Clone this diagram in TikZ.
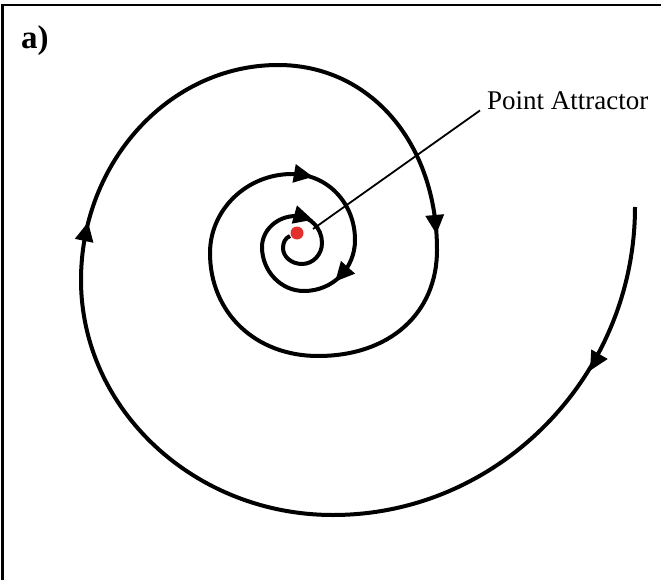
\documentclass[tikz,border=0pt]{standalone}
\usepackage{fontspec}
\setmainfont{Liberation Serif}
\definecolor{dotred}{RGB}{228,48,45}
\begin{document}
\begin{tikzpicture}[x=1pt,y=-1pt,
  spiral/.style={line width=4pt, line join=round},
  frameline/.style={line width=2.8pt},
  leader/.style={line width=1.8pt},
  arrowhead/.pic={\fill (10pt,0) -- (-9pt,9.5pt) -- (-9pt,-9.5pt) -- cycle;}]
\useasboundingbox (0,0) rectangle (661,580);
\fill[white] (0,0) rectangle (661,580);
% frame (right and bottom edges cropped)
\draw[frameline] (2.5,590) -- (2.5,5) -- (670,5);
% panel label
\node[anchor=base west, inner sep=0pt, font=\fontsize{33}{33}\selectfont\bfseries] (panel) at (21,49) {a)};
% spiral, clockwise inward
\draw[spiral]
 (635,207) .. controls (635,376) and (499,515) .. (333,515)
           .. controls (194,515) and (81,409) .. (81,280)
           .. controls (81,161.8) and (169.7,65) .. (278,65)
           .. controls (370,65) and (437,142.7) .. (437,250)
           .. controls (437,313.6) and (389.4,356) .. (318,356)
           .. controls (255.4,356) and (210,312.7) .. (210,253)
           .. controls (210,209.5) and (246.9,174) .. (292,174)
           .. controls (327.3,174) and (355,203) .. (355,240)
           .. controls (355,268.6) and (332.6,291) .. (304,291)
           .. controls (280.9,291) and (262,271.2) .. (262,247)
           .. controls (262,230) and (277.3,216) .. (296,216)
           .. controls (310.3,216) and (322,228.2) .. (322,243)
           .. controls (322,254.6) and (313,264) .. (302,264)
           .. controls (291.5,264) and (283,256.8) .. (283,248)
           .. controls (283,243) and (285,238) .. (290,236);
% arrowheads
\pic[rotate=240] at (595,362) {arrowhead};
\pic[rotate=78] at (86,232) {arrowhead};
\pic[rotate=-85] at (435.5,224) {arrowhead};
\pic[rotate=-10] at (303,175) {arrowhead};
\pic[rotate=228] at (342,274) {arrowhead};
\pic[rotate=-16] at (303,217) {arrowhead};
% attractor point and label
\node[circle, fill=dotred, inner sep=0pt, minimum size=13pt] (pa) at (297,233) {};
\coordinate (leadstart) at (313,229);
\node[anchor=base west, inner sep=0pt, font=\fontsize{27}{27}\selectfont] (attr) at (487,110) {Point Attractor};
\draw[leader] (leadstart) -- ([xshift=-7pt]attr.south west);
\end{tikzpicture}
\end{document}
